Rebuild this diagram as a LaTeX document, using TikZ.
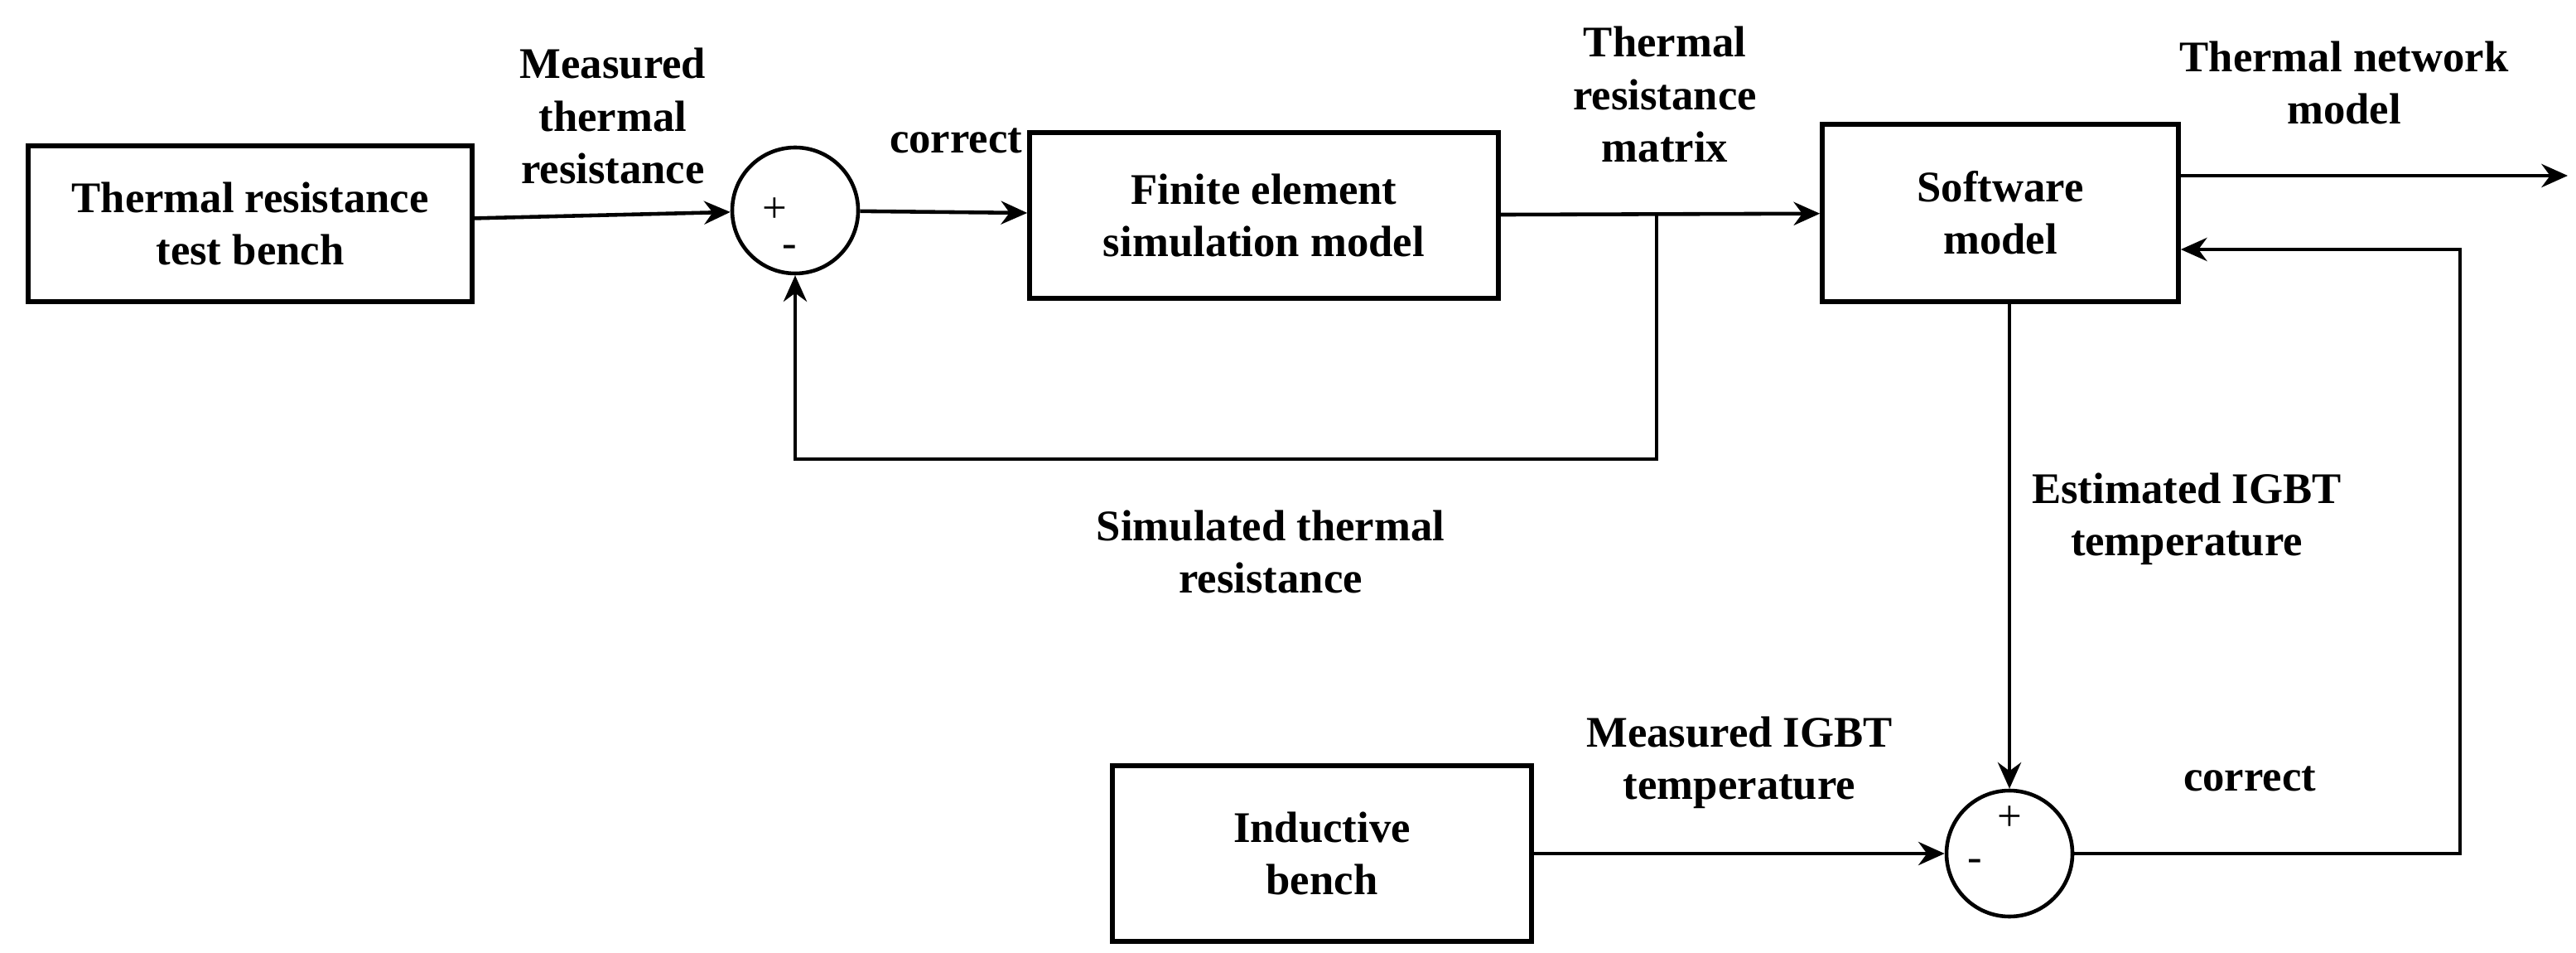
\documentclass[tikz,border=0pt]{standalone}
\usepackage{fontspec}
\setmainfont{Liberation Serif}
\usetikzlibrary{arrows.meta}
\tikzset{
  baseline = (current bounding box.center),
}
\begin{document}
\begin{tikzpicture}[
    blk/.style={draw,line width=1.6pt,align=center,font=\bfseries},
    sum/.style={draw,circle,line width=1.3pt,minimum size=1.52cm},
    lbl/.style={align=center,font=\bfseries},
    sig/.style={thick,-{Stealth[length=9pt,width=8pt]},line width=1.3pt}
    ]
    \useasboundingbox (0,0) rectangle (31.1,-11.5);
    \fontsize{15}{18}\selectfont
    \node[blk,minimum width=5.36cm,minimum height=1.88cm] (bench) at (3.02,-2.7) {Thermal resistance\\test bench};
    \node[sum] (sa) at (9.6,-2.54) {};
    \node[blk,minimum width=5.66cm,minimum height=2cm] (fem) at (15.26,-2.6) {Finite element\\simulation model};
    \node[blk,minimum width=4.3cm,minimum height=2.14cm] (soft) at (24.15,-2.57) {Software\\model};
    \node[sum] (sb) at (24.26,-10.3) {};
    \node[blk,minimum width=5.06cm,minimum height=2.12cm] (ind) at (15.96,-10.3) {Inductive\\bench};
    \coordinate (out) at (31,-2.12);
    \coordinate (tap) at (20,-2.6);
    \coordinate (fb) at (29.7,-10.3);
    % signs
    \node at ([xshift=-7pt]sa.center) {+};
    \node at ([xshift=-2pt,yshift=-14pt]sa.center) {-};
    \node at ([yshift=12pt]sb.center) {+};
    \node at ([xshift=-12pt,yshift=-4pt]sb.center) {-};
    % connectors
    \draw[sig] (bench) -- (sa);
    \draw[sig] (sa) -- (fem);
    \draw[sig] (fem) -- (soft);
    \draw[sig] (soft.east |- out) -- (out);
    \draw[sig] (tap) -- (tap |- 0,-5.54) -| (sa.south);
    \draw[sig] (soft.south -| sb) -- (sb.north);
    \draw[sig] (ind) -- (sb);
    \draw[sig] (sb) -- (fb) |- ([yshift=-0.44cm]soft.east);
    % labels
    \node[lbl] at (7.4,-1.4) {Measured\\thermal\\resistance};
    \node[lbl] at (11.54,-1.7) {correct};
    \node[lbl] at (20.1,-1.14) {Thermal\\resistance\\matrix};
    \node[lbl] at (28.3,-1) {Thermal network\\model};
    \node[lbl] at (15.34,-6.66) {Simulated thermal\\resistance};
    \node[lbl] at (26.4,-6.26) {Estimated IGBT\\temperature};
    \node[lbl] at (21,-9.2) {Measured IGBT\\temperature};
    \node[lbl] at (27.16,-9.4) {correct};
\end{tikzpicture}
\end{document}
